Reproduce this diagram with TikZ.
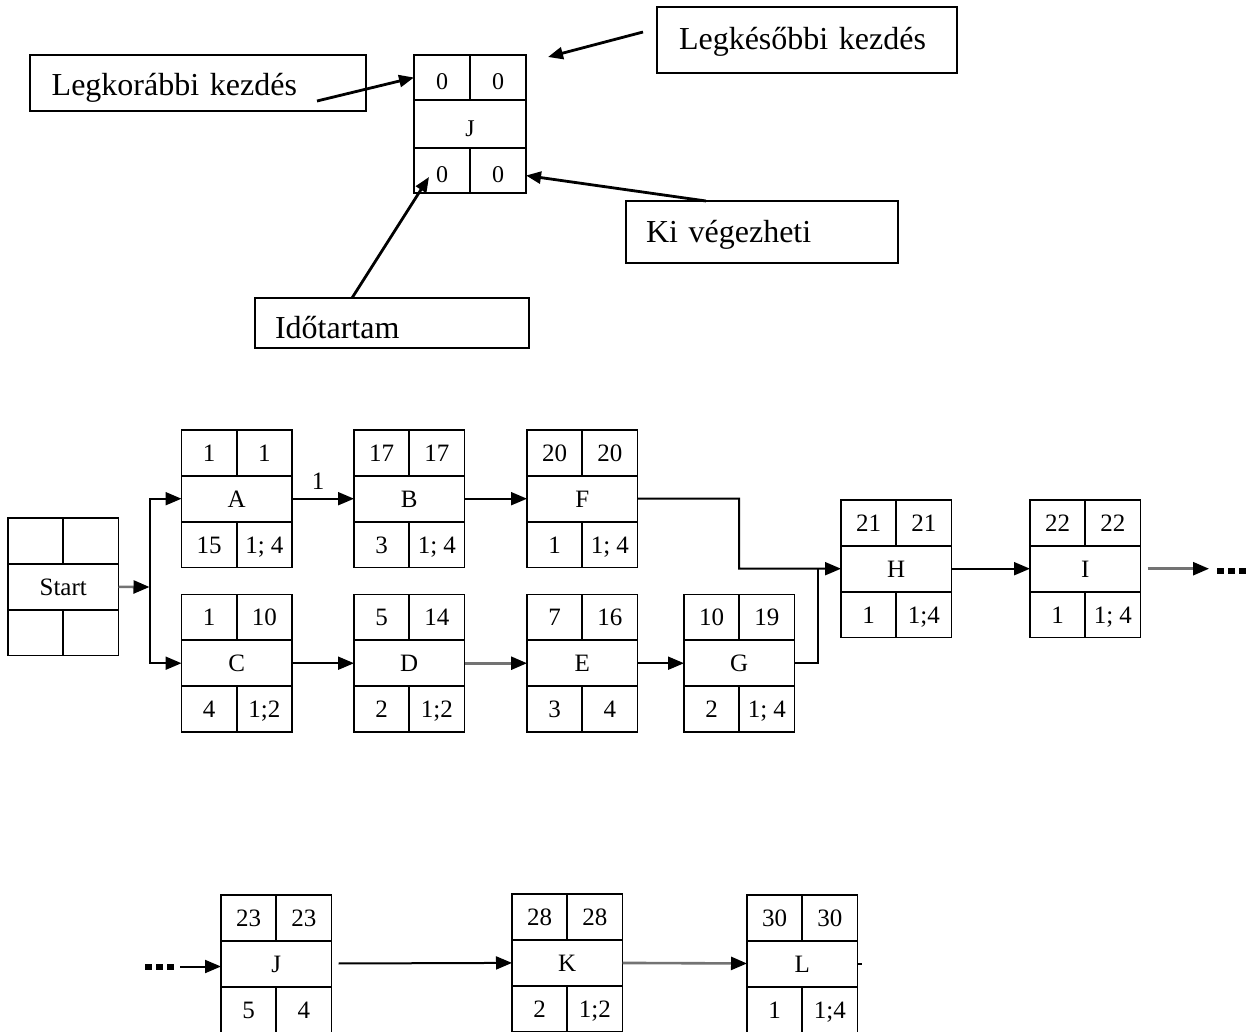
\documentclass[tikz,border=0pt]{standalone}
\usepackage{fontspec}
\setmainfont{Liberation Serif}
\usetikzlibrary{arrows.meta}
\newcommand\mynetbox[8]{%
  \node[cell, anchor=north west] (#1-tl) at (#2,#3) {#4};
  \node[cell, anchor=north west] (#1-tr) at (#1-tl.north east) {#5};
  \node[wcell, anchor=north west] (#1) at (#1-tl.south west) {#6};
  \node[cell, anchor=north west] (#1-bl) at (#1.south west) {#7};
  \node[cell, anchor=north west] (#1-br) at (#1-bl.north east) {#8};
}
\begin{document}
\begin{tikzpicture}[x=1pt,y=-1pt,
  cell/.style={draw, line width=1.8pt, inner sep=0pt, outer sep=0pt,
    minimum width=55.25pt, minimum height=45.8pt, text height=17pt, text depth=0pt,
    font=\fontsize{25}{25}\selectfont},
  wcell/.style={cell, minimum width=110.5pt},
  lcell/.style={draw, line width=2pt, inner sep=0pt, outer sep=0pt,
    minimum width=56pt, minimum height=45pt, text height=24pt, text depth=0pt,
    font=\fontsize{24}{24}\selectfont},
  lbox/.style={draw, line width=2pt, inner ysep=0pt, outer sep=0pt, text depth=0pt,
    align=left, anchor=north west, font=\fontsize{32}{36}\selectfont},
  line/.style={line width=2pt},
  arr/.style={line width=2pt, -{Triangle[length=16pt,width=13pt]}},
  garr/.style={line width=2.6pt, draw=black!55, -{Triangle[length=16pt,width=13pt,color=black]}},
  larr/.style={line width=2.8pt, -{Triangle[length=15pt,width=12pt]}},
  lbl/.style={font=\fontsize{25}{25}\selectfont, inner sep=0pt}
]
\useasboundingbox (0,0) rectangle (1250,1031);
\clip (0,0) rectangle (1250,1031);

% ---------- legend ----------
\node[lcell, anchor=north west] (lg-tl) at (414,55) {0};
\node[lcell, anchor=north west] (lg-tr) at (lg-tl.north east) {0};
\node[lcell, anchor=north west, minimum width=112pt, minimum height=48pt] (lg) at (lg-tl.south west) {J};
\node[lcell, anchor=north west] (lg-bl) at (lg.south west) {0};
\node[lcell, anchor=north west] (lg-br) at (lg-bl.north east) {0};

\node[lbox, inner xsep=21.7pt, text width=292.6pt, minimum height=56pt, text height=24pt] (lk) at (30,55) {Legkorábbi kezdés};
\node[lbox, inner xsep=22pt, text width=256pt, minimum height=66pt, text height=18pt] (lks) at (657,7) {Legkésőbbi kezdés};
\node[lbox, inner xsep=20pt, text width=232pt, minimum height=62pt, text height=20pt] (kv) at (626,201) {Ki végezheti};
\node[lbox, inner xsep=20pt, text width=234pt, minimum height=50pt, text height=30pt] (it) at (255,298) {Időtartam};

\coordinate (a1s) at (317,101);
\coordinate (a2s) at (643,32);
\coordinate (a2e) at (548,57);
\coordinate (a3s) at (706,201);
\coordinate (a4s) at (352,298);
\coordinate (a4e) at (429,177);
\draw[larr] (a1s) -- (lg-tl.west);
\draw[larr] (a2s) -- (a2e);
\draw[larr] (a3s) -- ([yshift=-5pt]lg-br.east);
\draw[larr] (a4s) -- (a4e);

% ---------- network ----------
\mynetbox{S}{8}{518}{}{}{Start}{}{}
\mynetbox{A}{181.5}{430}{1}{1}{A}{15}{1; 4}
\mynetbox{B}{354}{430}{17}{17}{B}{3}{1; 4}
\mynetbox{F}{527}{430}{20}{20}{F}{1}{1; 4}
\mynetbox{C}{181.5}{594.5}{1}{10}{C}{4}{1;2}
\mynetbox{D}{354}{594.5}{5}{14}{D}{2}{1;2}
\mynetbox{E}{527}{594.5}{7}{16}{E}{3}{4}
\mynetbox{G}{684}{594.5}{10}{19}{G}{2}{1; 4}
\mynetbox{H}{841}{500}{21}{21}{H}{1}{1;4}
\mynetbox{I}{1030}{500}{22}{22}{I}{1}{1; 4}
\mynetbox{J}{221}{895}{23}{23}{J}{5}{4}
\mynetbox{K}{512}{894}{28}{28}{K}{2}{1;2}
\mynetbox{L}{747}{895}{30}{30}{L}{1}{1;4}

\coordinate (jm) at (149.5,587);
\draw[garr] (S) -- (jm);
\draw[arr] (jm) |- (A);
\draw[arr] (jm) |- (C);
\draw[arr] (A) -- (B);
\node[lbl] (one) at (318,481) {1};
\draw[arr] (B) -- (F);
\coordinate (fb) at (739,568.7);
\draw[arr] (F) -| (fb) -- (H);
\coordinate (gb) at (817.6,568.7);
\draw[line] (G) -| (gb);
\draw[arr] (C) -- (D);
\draw[garr] (D) -- (E);
\draw[arr] (E) -- (G);
\draw[arr] (H) -- (I);

% dots right
\coordinate (dotsR) at (1209,571);
\draw[garr, shorten <=7pt] (I.east) -- (I.east -| dotsR);
\fill (1217,567.5) rectangle ++(6.5,6.5);
\fill (1228,567.5) rectangle ++(6.5,6.5);
\fill (1239,567.5) rectangle ++(6.5,6.5);

% dots left
\fill (145,963.5) rectangle ++(6.5,6.5);
\fill (156,963.5) rectangle ++(6.5,6.5);
\fill (167,963.5) rectangle ++(6.5,6.5);
\coordinate (dotsL) at (175,966.5);
\draw[arr, shorten <=5pt] (dotsL) -- (J.west |- dotsL);
\draw[arr, shorten <=7pt] (J) -- (K);
\draw[garr] (K) -- (L);
\draw[line] (L.east) -- ++(4,0);
\end{tikzpicture}
\end{document}
